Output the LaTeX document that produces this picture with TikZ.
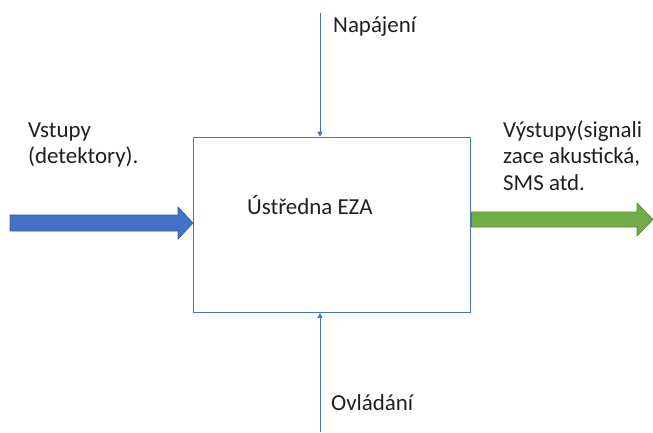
\documentclass[tikz,border=0pt]{standalone}
\usepackage{fontspec}
\setmainfont{Carlito}
\usetikzlibrary{arrows.meta}
\definecolor{accblue}{HTML}{4472C4}
\definecolor{accgreen}{HTML}{70AD47}
\begin{document}
\begin{tikzpicture}[x=1bp,y=-1bp,
  lbl/.style={font=\fontsize{23}{26.5}\selectfont, text=black!88, inner sep=0pt, align=left},
  thinline/.style={draw=accblue, line width=0.8bp},
  bigarrow/.style={line width=0.6bp}]
\useasboundingbox (0,0) rectangle (653,432);
% central unit
\node[draw=accblue, line width=1.3bp, minimum width=277bp, minimum height=175bp, inner sep=0pt] (box) at (332.3,224.8) {};
\node[lbl, anchor=base west] (unit) at (247,214) {Ústředna EZA};
% power supply and control inputs
\coordinate (ptop) at (320,13);
\coordinate (cbot) at (320,432);
\draw[thinline, -{Triangle[width=5bp,length=5bp]}] (ptop) -- (ptop |- box.north);
\draw[thinline, -{Triangle[width=5bp,length=5bp]}] (cbot) -- (cbot |- box.south);
\node[lbl, anchor=base west] (power) at (333,32) {Napájení};
\node[lbl, anchor=base west] (ctrl) at (331,410) {Ovládání};
% inputs (blue block arrow); the base anchor sits on the last text line
\coordinate (inl) at (10,223);
\fill[accblue, draw=accblue!80!black, bigarrow]
  (10,215) -- (178,215) -- (178,207) -- (box.west |- inl) -- (178,239) -- (178,231) -- (10,231) -- cycle;
\node[lbl, anchor=base west] (inputs) at (28,163.5) {Vstupy\\(detektory).};
% outputs (green block arrow)
\coordinate (outr) at (653,219.5);
\fill[accgreen, draw=accgreen!80!black, bigarrow]
  (box.east |- 0,212) -- (637,212) -- (637,203) -- (outr) -- (637,236) -- (637,227) -- (box.east |- 0,227) -- cycle;
\node[lbl, anchor=base west] (outputs) at (503,190) {Výstupy(signali\\zace akustická,\\SMS atd.};
\end{tikzpicture}
\end{document}
